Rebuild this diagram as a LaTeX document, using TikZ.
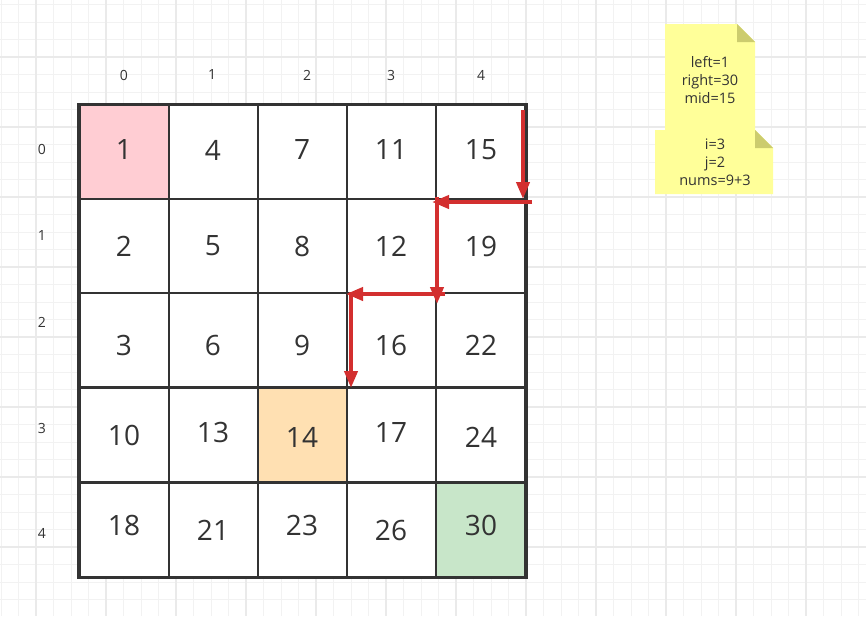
\documentclass[tikz,border=0pt]{standalone}
\usepackage{fontspec}
\setmainfont{Open Sans}
\usetikzlibrary{arrows.meta}
\definecolor{ink}{HTML}{333333}
\definecolor{gridminor}{HTML}{F2F2F2}
\definecolor{gridmajor}{HTML}{EAEAEA}
\definecolor{pinkc}{HTML}{FFCDD3}
\definecolor{orangec}{HTML}{FFE0B2}
\definecolor{greenc}{HTML}{C8E6C9}
\definecolor{redarrow}{HTML}{D32F2F}
\definecolor{notefill}{HTML}{FFFF99}
\definecolor{notefold}{HTML}{CCCC6E}
\begin{document}
\begin{tikzpicture}[x=1pt,y=-1pt,
  cell/.style={draw=ink, line width=2pt, minimum width=89pt, minimum height=94pt, inner sep=0pt, fill=white},
  num/.style={font=\fontsize{28}{30}\selectfont, text=ink, inner sep=0pt},
  idx/.style={font=\fontsize{14}{16}\selectfont, text=ink, inner sep=0pt},
  notetext/.style={font=\fontsize{14.5}{18}\selectfont, text=ink, align=center, inner sep=0pt},
  path arrow/.style={draw=redarrow, line width=4pt, -{Triangle[length=17pt,width=13pt]}}
]
\useasboundingbox (0,0) rectangle (866,616);
\fill[white] (0,0) rectangle (866,616);
% background grid
\foreach \k in {-2,...,48} {
  \draw[gridminor, line width=1pt] ({36+17.5*\k},0) -- ({36+17.5*\k},616);
}
\foreach \k in {-3,...,32} {
  \draw[gridminor, line width=1pt] (0,{57+17.5*\k}) -- (866,{57+17.5*\k});
}
\foreach \k in {0,...,12} {
  \draw[gridmajor, line width=1.3pt] ({36+70*\k},0) -- ({36+70*\k},616);
}
\foreach \k in {0,...,8} {
  \draw[gridmajor, line width=1.3pt] (0,{-13+70*\k}) -- (866,{-13+70*\k});
}

% cells
\foreach \r/\cy in {0/152,1/246,2/340,3/434.5,4/529.5} {
  \foreach \c/\cx in {0/124,1/213.5,2/302.5,3/391.5,4/480.5} {
    \node[cell] (c\r\c) at (\cx,\cy) {};
  }
}
\node[cell, fill=pinkc] (c00) at (124,152) {};
\node[cell, fill=orangec] (c32) at (302.5,434.5) {};
\node[cell, fill=greenc] (c44) at (480.5,529.5) {};
\draw[ink, line width=3pt] (c00.north west) rectangle (c44.south east);

% numbers
\node[num] (n00) at (124,150) {1};
\node[num] (n01) at (213,150) {4};
\node[num] (n02) at (302,150) {7};
\node[num] (n03) at (391,150) {11};
\node[num] (n04) at (481,150) {15};
\node[num] (n10) at (124,246) {2};
\node[num] (n11) at (213,246) {5};
\node[num] (n12) at (302,246) {8};
\node[num] (n13) at (391,246) {12};
\node[num] (n14) at (481,246) {19};
\node[num] (n20) at (124,345) {3};
\node[num] (n21) at (213,345) {6};
\node[num] (n22) at (302,345) {9};
\node[num] (n23) at (391,345) {16};
\node[num] (n24) at (481,345) {22};
\node[num] (n30) at (124,435) {10};
\node[num] (n31) at (213,432) {13};
\node[num] (n32) at (302,437) {14};
\node[num] (n33) at (391,432) {17};
\node[num] (n34) at (481,437) {24};
\node[num] (n40) at (124,525) {18};
\node[num] (n41) at (213,530) {21};
\node[num] (n42) at (302,525) {23};
\node[num] (n43) at (391,530) {26};
\node[num] (n44) at (481,525) {30};

% index labels
\node[idx] (col0) at (124,75) {0};
\node[idx] (col1) at (212,75) {1};
\node[idx] (col2) at (307,75) {2};
\node[idx] (col3) at (391,75) {3};
\node[idx] (col4) at (481,75) {4};
\node[idx] (row0) at (42,149) {0};
\node[idx] (row1) at (42,235) {1};
\node[idx] (row2) at (42,322) {2};
\node[idx] (row3) at (42,428) {3};
\node[idx] (row4) at (42,533) {4};

% arrows
\coordinate (a1s) at (523,110);
\coordinate (a1e) at (523,199);
\coordinate (a2s) at (532,202);
\coordinate (a2e) at (432,202);
\coordinate (a3s) at (437,197);
\coordinate (a3e) at (437,304);
\coordinate (a4s) at (445,294);
\coordinate (a4e) at (346,294);
\coordinate (a5s) at (351,292);
\coordinate (a5e) at (351,388);
\draw[path arrow] (a1s) -- (a1e);
\draw[path arrow] (a2s) -- (a2e);
\draw[path arrow] (a3s) -- (a3e);
\draw[path arrow] (a4s) -- (a4e);
\draw[path arrow] (a5s) -- (a5e);

% notes
\fill[notefill] (665,24) -- (737,24) -- (755,42) -- (755,132) -- (665,132) -- cycle;
\fill[notefold] (737,24) -- (737,42) -- (755,42) -- cycle;
\fill[notefill] (655,130) -- (755,130) -- (773,148) -- (773,194) -- (655,194) -- cycle;
\fill[notefold] (755,130) -- (755,148) -- (773,148) -- cycle;
\node[notetext] (note1) at (710,80) {left=1\\right=30\\mid=15};
\node[notetext] (note2) at (715,162) {i=3\\j=2\\nums=9+3};
\end{tikzpicture}
\end{document}
